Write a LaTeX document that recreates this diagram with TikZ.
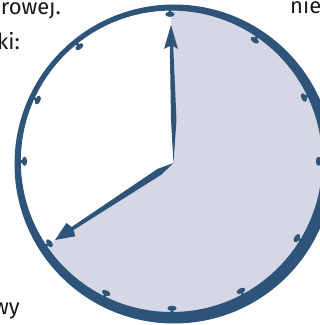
\documentclass[tikz,border=0pt]{standalone}
\usepackage{fontspec}
\setmainfont{Fira Sans}
\usetikzlibrary{calc}
\definecolor{clockblue}{HTML}{2E547A}
\definecolor{clockfill}{HTML}{D5D8E4}

\begin{document}
\begin{tikzpicture}[x=1pt, y=1pt,
    txt/.style={font=\fontsize{22}{26}\selectfont, inner sep=0pt, text=black!90},
    hand/.style={fill=clockblue, draw=none},
    tickmark/.style={fill=clockblue, draw=none}
]
    \useasboundingbox (0,0) rectangle (320,325);
    \clip (0,0) rectangle (320,325);

    % Clock centre and hand tips
    \coordinate (ctr) at (173.5,162);
    \coordinate (rim) at (171.5,163.7);
    \coordinate (hourtip) at (171,300);
    \coordinate (mintip) at (55,85);

    % Shaded sector from 12 to the minute hand
    \fill[clockfill] (ctr) -- ($(ctr)+(91:155)$) arc[start angle=91, end angle=-147, radius=155] -- cycle;

    % Rim
    \fill[clockblue, even odd rule] (174,161) circle[radius=159.5] (rim) circle[radius=150.7];

    % Hour marks
    \foreach \a in {0,25.7,55.5,90.6,128.8,155.4,180,213.9,243.6,270.2,298.2,328.5} {
        \begin{scope}[shift={(rim)}, rotate=\a]
            \fill[tickmark] (147,0) ellipse[x radius=2.6, y radius=4.6];
            \fill[tickmark] (147,-1.3) rectangle (152,1.3);
        \end{scope}
    }

    % Hour hand
    \fill[hand] (ctr) -- (176.5,205) -- (173.2,279) -- (178,276) -- (hourtip)
        -- (164,276) -- (169.8,279) -- (171,205) -- cycle;

    % Minute hand
    \fill[hand] (ctr) -- (161.5,150.4) -- (73.6,95.0) -- (75.3,88.7) -- (mintip)
        -- (66.5,102.1) -- (71.6,98.0) -- (157.7,156.2) -- cycle;

    % Text fragments round the clock
    \node[txt, anchor=base east] (rowej) at (61,311) {rowej.};
    \node[txt, anchor=base east] (ki) at (20,276) {ki:};
    \node[txt, anchor=base west] (nie) at (290,312) {nie};
    \node[txt, anchor=base east] (wy) at (20,11) {wy};
\end{tikzpicture}
\end{document}
